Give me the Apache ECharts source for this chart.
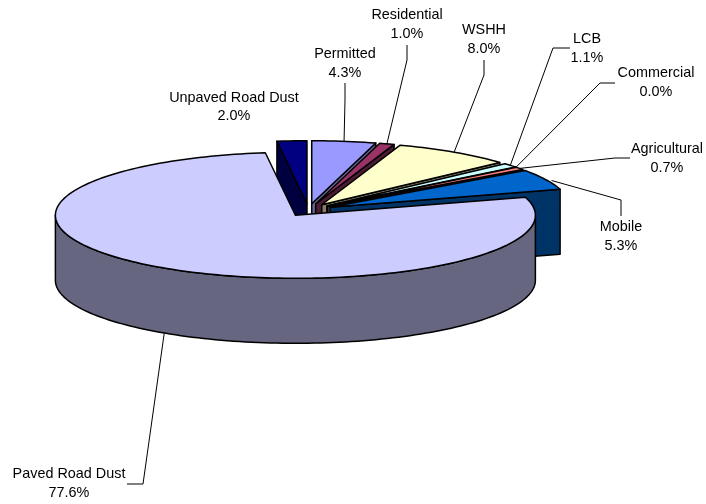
<!DOCTYPE html>
<html><head><meta charset="utf-8">
<style>html,body{margin:0;padding:0;background:#fff}#c{width:706px;height:504px}</style>
<script src="https://cdn.jsdelivr.net/npm/echarts@6/dist/echarts.min.js"></script>
</head><body><div id="c"></div>
<script>
const categories = ['Unpaved Road Dust','Permitted','Residential','WSHH','LCB','Commercial','Agricultural','Mobile','Paved Road Dust'];
const shares = [2.0,4.3,1.0,8.0,1.1,0.0,0.7,5.3,77.6];
const percentLabels = ['2.0%','4.3%','1.0%','8.0%','1.1%','0.0%','0.7%','5.3%','77.6%'];
const topColors = ['#000080','#9999FF','#993366','#FFFFCC','#CCFFFF','#660066','#FF8080','#0066CC','#CCCCFF'];
const wallColors = ['#000040','#666699','#4D1A33','#808066','#668080','#330033','#804040','#003366','#666680'];

// Pie projection (screen pixels)
const PIE = {cx:308.5, cy:210, rx:240, ry:63, depth:65, explode:0.1, first:352.8};
// Label layout: text centre, leader elbow points, leader end nudge
const LAYOUT = [
 {x:234,y:107,line:[]},
 {x:345,y:63.5,line:[[345,83],[345,100]]},
 {x:407,y:24.5,line:[[407,45],[407,60]]},
 {x:484,y:39.5,line:[[484,60],[484,75]]},
 {x:587,y:48.5,line:[[570,48],[553,48]]},
 {x:656,y:82.5,line:[[615,83],[600,83]]},
 {x:667,y:158.5,line:[[630,158],[615,158]]},
 {x:621,y:236.5,line:[[621,216],[621,200]],nudge:[6,1]},
 {x:69,y:483.5,line:[[127,484],[143,484]]}
];
const total = shares.reduce((a,b)=>a+b,0);
const rad = d => d*Math.PI/180;
function sliceGeom(i){
  let before = 0; for(let k=0;k<i;k++) before += shares[k];
  const a0 = PIE.first + before/total*360, a1 = a0 + shares[i]/total*360, m = (a0+a1)/2;
  const ax = PIE.cx + PIE.explode*PIE.rx*Math.sin(rad(m));
  const ay = PIE.cy - PIE.explode*PIE.ry*Math.cos(rad(m));
  const pt = a => [ax+PIE.rx*Math.sin(rad(a)), ay-PIE.ry*Math.cos(rad(a))];
  return {a0,a1,m,ax,ay,pt};
}
function arcPts(g,a,b){ const n=Math.max(2,Math.ceil(Math.abs(b-a)/1.5)); const o=[]; for(let j=0;j<=n;j++) o.push(g.pt(a+(b-a)*j/n)); return o; }
const STROKE = {stroke:'#000',lineWidth:1.5,lineJoin:'round'};

function renderSlice(params, api){
  const i = api.value(0), v = api.value(1);
  if(!v) return {type:'group',children:[]};
  const g = sliceGeom(i);
  const c = p => api.coord(p);
  const poly = (pts,fill) => ({type:'polygon',shape:{points:pts.map(c)},style:Object.assign({fill},STROKE)});
  const down = p => [p[0],p[1]+PIE.depth];
  const apex = [g.ax,g.ay];
  const kids = [];
  const wall = (a) => { const p=g.pt(a); kids.push(poly([apex,p,down(p),down(apex)],wallColors[i])); };
  if(Math.sin(rad(g.a0))<0) wall(g.a0);
  if(Math.sin(rad(g.a1))>0) wall(g.a1);
  // outer rim, visible on the front half only (angles run past 360 after the first turn)
  [[90,270],[450,630]].forEach(r=>{
    const from=Math.max(g.a0,r[0]), to=Math.min(g.a1,r[1]);
    if(to>from){ const arc=arcPts(g,from,to); kids.push(poly(arc.concat(arc.map(down).reverse()),wallColors[i])); }
  });
  kids.push(poly([apex].concat(arcPts(g,g.a0,g.a1)),topColors[i]));
  return {type:'group',children:kids};
}
function renderLabel(params, api){
  const i = api.value(0);
  const g = sliceGeom(i), L = LAYOUT[i];
  const kids = [];
  if(L.line.length){
    let end = g.pt(g.m);
    const n = ((g.m%360)+360)%360;
    if(n>90 && n<270) end = [end[0],end[1]+PIE.depth];
    if(L.nudge) end = [end[0]+L.nudge[0],end[1]+L.nudge[1]];
    kids.push({type:'polyline',shape:{points:L.line.concat([end]).map(p=>api.coord(p))},style:{fill:null,stroke:'#000',lineWidth:1}});
  }
  const t = api.coord([L.x,L.y]);
  kids.push({type:'text',style:{x:t[0],y:t[1],text:categories[i]+'\n'+percentLabels[i],textAlign:'center',textVerticalAlign:'middle',fill:'#000',font:'14.4px "Liberation Sans", Arial, sans-serif',lineHeight:18.5}});
  return {type:'group',children:kids};
}
const rows = shares.map((v,i)=>[i,v]);
const chart = echarts.init(document.getElementById('c'),null,{renderer:'canvas'});
chart.setOption({
  animation:false,
  backgroundColor:'#fff',
  grid:{left:0,right:0,top:0,bottom:0},
  xAxis:{type:'value',min:0,max:706,show:false},
  yAxis:{type:'value',min:0,max:504,inverse:true,show:false},
  series:[
    {type:'custom',name:'slices',coordinateSystem:'cartesian2d',data:rows,encode:{x:-1,y:-1},renderItem:renderSlice,z:2,clip:false,silent:true},
    {type:'custom',name:'labels',coordinateSystem:'cartesian2d',data:rows,encode:{x:-1,y:-1},renderItem:renderLabel,z:3,clip:false,silent:true}
  ]
});
</script></body></html>
